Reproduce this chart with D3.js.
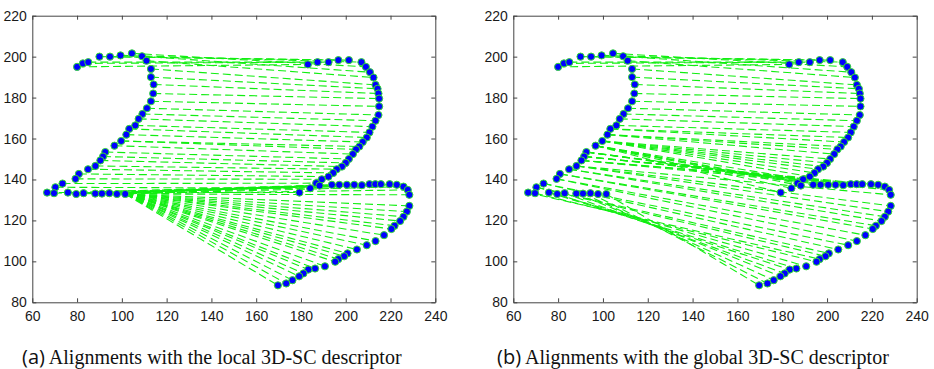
<!DOCTYPE html>
<html><head><meta charset="utf-8">
<script src="https://cdn.jsdelivr.net/npm/d3@7"></script>
<style>body{margin:0;background:#fff}svg{display:block}</style>
</head><body>
<script>
// ---- data ----
const xTicks = [60, 80, 100, 120, 140, 160, 180, 200, 220, 240];
const yTicks = [80, 100, 120, 140, 160, 180, 200, 220];

// contour of the first "2" shape
const shape1X = [80,82.6,85,90,94.7,99.4,104.5,109,111,113,113,114.2,114,113,111.2,109.2,107.5,106,103.3,102,99.7,96.7,92.6,91.6,90.4,88.2,84.9,80.8,79.3,73.5,70.3,66.6,69.7,75.9,79.6,82.9,88.1,91.1,94.4,97.8,101.5];
const shape1Y = [195,196.7,197.3,200,200,200.6,201.6,200.2,198,194,190,186.4,182,178.2,174.8,172,169.6,166.4,164.7,161.9,158.8,156.5,153.4,151.2,149.3,146.6,145,142.7,140.3,138,136.2,133.6,133.3,133.6,132.9,133.3,133.1,133.1,133.3,132.9,132.9];

// contour of the second (deformed) shape
const shape2X = [183.1,187.4,192.3,196.7,201.4,207.0,209.0,210.8,212.4,213.3,214.2,214.6,214.9,214.9,214.6,213.3,211.9,210.6,209.4,207.6,206.1,204.6,203.2,201.4,200.0,198.3,196.0,194.4,192.3,189.3,186.8,184.1,179.3,188.3,193.8,197.1,200.5,203.8,207.2,210.6,213.2,215.7,219.6,222.8,225.8,227.7,228.4,228.4,227.3,225.8,224.3,221.8,220.4,217.1,213.3,209.4,205.0,200.8,199.3,196.7,195.3,190.7,186.3,183.3,181.1,179.2,176.2,173.4,169.7];
const shape2Y = [196.2,197.3,197.3,198.3,198.3,197.3,195.0,192.4,189.8,186.2,184.3,182.0,179.5,175.7,171.5,168.7,165.8,163.0,160.5,158.3,156.1,154.7,152.4,150.0,148.1,146.3,145.0,143.2,141.4,140.1,138.2,135.7,133.6,137.0,137.4,137.4,137.4,137.4,137.2,137.7,137.7,137.7,137.7,137.4,136.5,134.9,132.5,127.1,124.3,121.8,119.7,117.4,115.8,112.8,109.9,107.9,105.8,103.9,102.5,101.1,99.8,97.6,96.5,96.0,94.1,92.7,90.8,89.2,88.3];

// for each point of shape 2: index of the matched point of shape 1
const matchLocal = [0,1,2,3,4,5,6,7,8,9,10,11,12,13,14,15,16,17,18,19,20,20,21,22,23,24,25,26,27,28,29,30,31,
  32,33,34,35,35,36,37,37,38,38,39,39,40,40,
  40,40,40,40,40,40,40,40,40,40,40,40,40,40,40,40,40,40,40,40,40,40];
const matchGlobal = [0,1,2,3,4,5,6,7,8,9,10,11,12,13,14,15,16,17,18,18,
  19,19,19,20,20,20,20,20,
  20,21,21,21,21,
  21,21,22,22,22,22,23,23,23,23,24,24,24,25,
  25,25,26,26,27,27,28,28,29,29,30,
  30,31,32,33,33,34,35,36,37,38,40];

const captionLabels = ["(a)", "(b)"];
const captionTexts = [" Alignments with the local 3D-SC descriptor", " Alignments with the global 3D-SC descriptor"];

// ---- layout ----
const W = 934, H = 369;
const plotTop = 15.7, plotBottom = 302.3;
const panels = [
  {left: 32.3, right: 435.3, match: matchLocal, capX: 22},
  {left: 513.3, right: 916.7, match: matchGlobal, capX: 497}
];

const svg = d3.select("body").append("svg").attr("width", W).attr("height", H);

panels.forEach((p, k) => {
  const x = d3.scaleLinear().domain([60, 240]).range([p.left, p.right]);
  const y = d3.scaleLinear().domain([80, 220]).range([plotBottom, plotTop]);
  const g = svg.append("g");

  // correspondence lines
  g.append("g")
    .attr("fill", "none")
    .attr("stroke", "#11ee11")
    .attr("stroke-width", 1.1)
    .attr("stroke-dasharray", "8,4")
    .selectAll("line").data(p.match).join("line")
    .attr("x1", d => x(shape1X[d]))
    .attr("y1", d => y(shape1Y[d]))
    .attr("x2", (d, j) => x(shape2X[j]))
    .attr("y2", (d, j) => y(shape2Y[j]));

  // points
  const drawPts = (xs, ys) => g.append("g").selectAll("circle").data(xs).join("circle")
    .attr("cx", d => x(d))
    .attr("cy", (d, i) => y(ys[i]))
    .attr("r", 3.6)
    .attr("fill", "#0000ff")
    .attr("stroke", "#33dd33")
    .attr("stroke-width", 1);
  drawPts(shape1X, shape1Y);
  drawPts(shape2X, shape2Y);

  // axes (ticks inside, box)
  const style = sel => {
    sel.select(".domain").attr("stroke", "#444");
    sel.selectAll(".tick line").attr("stroke", "#444");
    sel.selectAll("text").attr("fill", "#1a1a1a")
      .style("font-family", "Arial, 'Liberation Sans', sans-serif").style("font-size", "14px");
  };
  g.append("g").attr("transform", `translate(0,${plotBottom})`)
    .call(d3.axisBottom(x).tickValues(xTicks).tickSize(-4).tickSizeOuter(0).tickPadding(9).tickFormat(d3.format("d")))
    .call(style);
  g.append("g").attr("transform", `translate(${p.left},0)`)
    .call(d3.axisLeft(y).tickValues(yTicks).tickSize(-4).tickSizeOuter(0).tickPadding(5.5).tickFormat(d3.format("d")))
    .call(style);
  g.append("g").attr("transform", `translate(0,${plotTop})`)
    .call(d3.axisTop(x).tickValues(xTicks).tickSize(-4).tickSizeOuter(0).tickFormat(""))
    .call(style);
  g.append("g").attr("transform", `translate(${p.right},0)`)
    .call(d3.axisRight(y).tickValues(yTicks).tickSize(-4).tickSizeOuter(0).tickFormat(""))
    .call(style);

  // caption
  const cap = svg.append("text")
    .attr("x", p.capX).attr("y", 364)
    .attr("fill", "#111")
    .style("font-family", "'Times New Roman', 'Liberation Serif', serif")
    .style("font-size", "20px");
  cap.append("tspan").style("font-family", "'Open Sans', 'Liberation Sans', sans-serif").style("font-size", "20px").text(captionLabels[k]);
  cap.append("tspan").text(captionTexts[k]);
});
</script>
</body></html>
